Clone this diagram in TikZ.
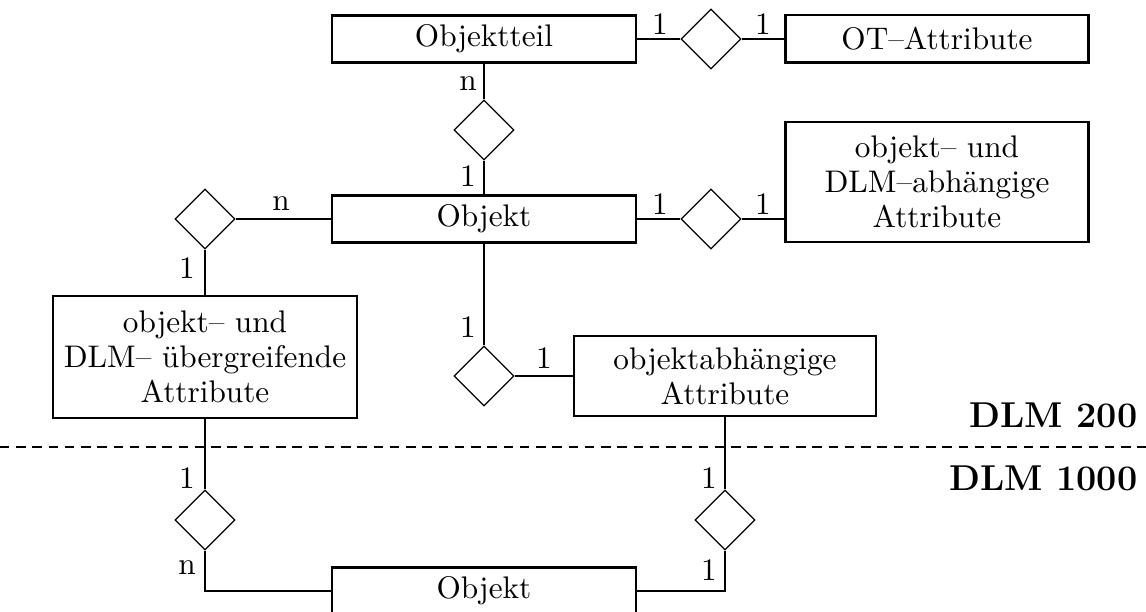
\documentclass[tikz,border=0pt]{standalone}
\usetikzlibrary{shapes.geometric}
\begin{document}
\begin{tikzpicture}[x=0.32pt,y=-0.32pt,
  entity/.style={draw,line width=0.9pt,inner sep=1pt,align=center,
    font=\fontsize{10}{11.2}\selectfont},
  rel/.style={draw,diamond,aspect=1,minimum width=19.2pt,minimum height=19.2pt,
    inner sep=0pt,line width=0.4pt},
  card/.style={inner sep=0pt,font=\fontsize{10}{12}\selectfont},
  link/.style={line width=0.45pt},
  level/.style={anchor=east,inner sep=0pt,font=\fontsize{11.5}{14}\selectfont\bfseries}]
\useasboundingbox (0,0) rectangle (1146,612);

% entities
\node[entity,minimum width=97.3pt,minimum height=15pt] (ot) at (484,39) {Objektteil};
\node[entity,minimum width=97pt,minimum height=15.3pt] (ota) at (937,39) {OT\textendash Attribute};
\node[entity,minimum width=97.3pt,minimum height=15pt] (obj) at (484,219) {Objekt};
\node[entity,minimum width=97pt,minimum height=38.4pt] (rbox) at (937,182)
  {objekt\textendash{} und\\DLM\textendash abhängige\\Attribute};
\node[entity,minimum width=97.3pt,minimum height=39pt] (lbox) at (205,357)
  {objekt\textendash{} und\\DLM\textendash{} übergreifende\\Attribute};
\node[entity,minimum width=96.6pt,minimum height=25.6pt] (oab) at (725,376)
  {objektabhängige\\Attribute};
\node[entity,minimum width=97.3pt,minimum height=15pt] (objb) at (484,591) {Objekt};

% relationships
\node[rel] (d1) at (711,39) {};
\node[rel] (d2) at (484,130) {};
\node[rel] (dl) at (205,219) {};
\node[rel] (dr) at (711,219) {};
\node[rel] (d3) at (484,376) {};
\node[rel] (d5) at (205,520) {};
\node[rel] (d6) at (725,520) {};

% connectors
\draw[link] (ot) -- (d1) -- (ota);
\draw[link] (ot) -- (d2) -- (obj);
\draw[link] (obj) -- (dl) -- (lbox);
\draw[link] (obj) -- (dr) -- (dr -| rbox.west);
\draw[link] (obj) -- (d3) -- (oab);
\draw[link] (lbox) -- (d5);
\draw[link] (d5) |- (objb);
\draw[link] (oab) -- (d6);
\draw[link] (d6) |- (objb);

% cardinalities
\node[card] (c1) at (660,24) {1};
\node[card] (c2) at (763,24) {1};
\node[card] (c3) at (468,84) {n};
\node[card] (c4) at (468,176) {1};
\node[card] (c5) at (281,204) {n};
\node[card] (c6) at (187,268) {1};
\node[card] (c7) at (660,204) {1};
\node[card] (c8) at (763,204) {1};
\node[card] (c9) at (468,327) {1};
\node[card] (c10) at (544,358) {1};
\node[card] (c11) at (187,478) {1};
\node[card] (c12) at (187,568) {n};
\node[card] (c13) at (709,478) {1};
\node[card] (c14) at (709,570) {1};

% level separator
\coordinate (sepL) at (0,447);
\coordinate (sepR) at (1146,447);
\draw[link,dash pattern=on 3pt off 2.2pt] (sepL) -- (sepR);
\node[level] (lv1) at (1138,415) {DLM 200};
\node[level] (lv2) at (1138,478) {DLM 1000};
\end{tikzpicture}
\end{document}
